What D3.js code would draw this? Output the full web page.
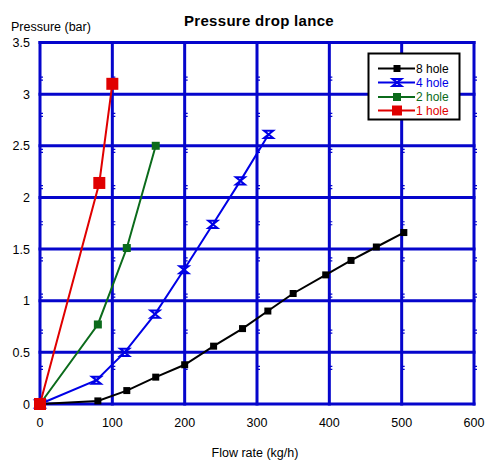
<!DOCTYPE html>
<html>
<head>
<meta charset="utf-8">
<script src="https://cdn.jsdelivr.net/npm/d3@7"></script>
<style>
  body { margin: 0; background: #fff; }
  text { font-family: "Liberation Sans", Arial, sans-serif; }
</style>
</head>
<body>
<div id="chart"></div>
<script>
// series values
const hole8X = [0, 80, 120, 160, 200, 240, 280, 315, 350, 395, 430, 465, 503];
const hole8Y = [0, 0.03, 0.13, 0.26, 0.38, 0.56, 0.73, 0.9, 1.07, 1.25, 1.39, 1.52, 1.66];
const hole4X = [0, 78, 117, 159, 199, 239, 277, 316];
const hole4Y = [0, 0.23, 0.5, 0.87, 1.3, 1.74, 2.16, 2.61];
const hole2X = [0, 80, 120, 160];
const hole2Y = [0, 0.77, 1.51, 2.5];
const hole1X = [0, 82, 100];
const hole1Y = [0, 2.14, 3.1];

const xTicks = [0, 100, 200, 300, 400, 500, 600];
const yTicks = [0, 0.5, 1, 1.5, 2, 2.5, 3, 3.5];
const yTickLabels = ["0", "0.5", "1", "1.5", "2", "2.5", "3", "3.5"];

const seriesNames = ["8 hole", "4 hole", "2 hole", "1 hole"];

const width = 487, height = 460;
const margin = {top: 42.5, right: 13, bottom: 56, left: 40};

const gridBlue = "#0505cc";

const series = [
  {name: seriesNames[0], xs: hole8X, ys: hole8Y, color: "#000000", marker: "square", size: 7},
  {name: seriesNames[1], xs: hole4X, ys: hole4Y, color: "#0000e6", marker: "bowtie", size: 9},
  {name: seriesNames[2], xs: hole2X, ys: hole2Y, color: "#0b6b1b", marker: "square", size: 8},
  {name: seriesNames[3], xs: hole1X, ys: hole1Y, color: "#e00000", marker: "square", size: 12}
];

const svg = d3.select("#chart").append("svg")
  .attr("width", width)
  .attr("height", height);

const sx = d3.scaleLinear().domain([0, 600]).range([margin.left, width - margin.right]);
const sy = d3.scaleLinear().domain([0, 3.5]).range([height - margin.bottom, margin.top]);

// title and axis labels
svg.append("text")
  .attr("x", 259).attr("y", 26)
  .attr("text-anchor", "middle")
  .style("font-size", "15px").style("font-weight", "bold")
  .style("letter-spacing", "0.3px")
  .text("Pressure drop lance");

svg.append("text")
  .attr("x", 11).attr("y", 31)
  .style("font-size", "12.5px")
  .text("Pressure (bar)");

svg.append("text")
  .attr("x", 255).attr("y", 457)
  .attr("text-anchor", "middle")
  .style("font-size", "12.5px")
  .text("Flow rate (kg/h)");

// grid
const grid = svg.append("g");
grid.selectAll("line.h")
  .data(yTicks)
  .join("line")
  .attr("class", "h")
  .attr("x1", sx(0) - 1.5).attr("x2", sx(600) + 1.5)
  .attr("y1", d => sy(d)).attr("y2", d => sy(d))
  .attr("stroke", gridBlue).attr("stroke-width", 3);

grid.selectAll("line.v")
  .data(xTicks)
  .join("line")
  .attr("class", "v")
  .attr("x1", d => sx(d)).attr("x2", d => sx(d))
  .attr("y1", sy(3.5) - 1.5).attr("y2", sy(0) + 1.5)
  .attr("stroke", gridBlue).attr("stroke-width", 3);

// small minor notches on the vertical lines
const minor = d3.range(1, 10).map(i => i * 0.35);
xTicks.forEach(xv => {
  grid.append("g")
    .selectAll("path")
    .data(minor)
    .join("path")
    .attr("d", d => `M${sx(xv)},${sy(d) - 1.5}h3M${sx(xv)},${sy(d) + 1.5}h3`)
    .attr("stroke", gridBlue)
    .attr("stroke-width", 1.2);
});

// tick labels
svg.append("g")
  .selectAll("text")
  .data(yTicks)
  .join("text")
  .attr("x", 30)
  .attr("y", d => sy(d) + 4.5)
  .attr("text-anchor", "end")
  .style("font-size", "12.5px")
  .text((d, i) => yTickLabels[i]);

svg.append("g")
  .selectAll("text")
  .data(xTicks)
  .join("text")
  .attr("x", d => sx(d))
  .attr("y", 427)
  .attr("text-anchor", "middle")
  .style("font-size", "12.5px")
  .text(d => d);

function markerPath(type, s) {
  const h = s / 2;
  if (type === "bowtie") {
    return `M${-h},${-h * 0.8}L${h},${-h * 0.8}L${-h},${h * 0.8}L${h},${h * 0.8}Z`;
  }
  return `M${-h},${-h}h${s}v${s}h${-s}Z`;
}

function drawMarker(sel, s, x, y) {
  if (s.marker === "bowtie") {
    sel.append("path")
      .attr("d", markerPath("bowtie", s.size))
      .attr("transform", `translate(${x},${y})`)
      .attr("fill", "none")
      .attr("stroke", s.color)
      .attr("stroke-width", 2);
  } else {
    sel.append("path")
      .attr("d", markerPath("square", s.size))
      .attr("transform", `translate(${x},${y})`)
      .attr("fill", s.color);
  }
}

const line = d3.line().x(d => sx(d[0])).y(d => sy(d[1]));

series.forEach(s => {
  const pts = s.xs.map((x, i) => [x, s.ys[i]]);
  const g = svg.append("g");
  g.append("path")
    .datum(pts)
    .attr("d", line)
    .attr("fill", "none")
    .attr("stroke", s.color)
    .attr("stroke-width", 2);
  pts.forEach(p => drawMarker(g, s, sx(p[0]), sy(p[1])));
});

// legend
const legend = svg.append("g");
legend.append("rect")
  .attr("x", 368.5).attr("y", 53.5)
  .attr("width", 91).attr("height", 66)
  .attr("fill", "#fff")
  .attr("stroke", "#000").attr("stroke-width", 2);

series.forEach((s, i) => {
  const y = [68.5, 82.5, 97, 110.5][i];
  legend.append("line")
    .attr("x1", 378).attr("x2", 415)
    .attr("y1", y).attr("y2", y)
    .attr("stroke", s.color).attr("stroke-width", 2);
  drawMarker(legend, Object.assign({}, s, {size: Math.min(s.size, 10)}), 397, y);
  legend.append("text")
    .attr("x", 416).attr("y", y + 4.3)
    .attr("fill", s.color)
    .style("font-size", "12px")
    .text(s.name);
});
</script>
</body>
</html>
